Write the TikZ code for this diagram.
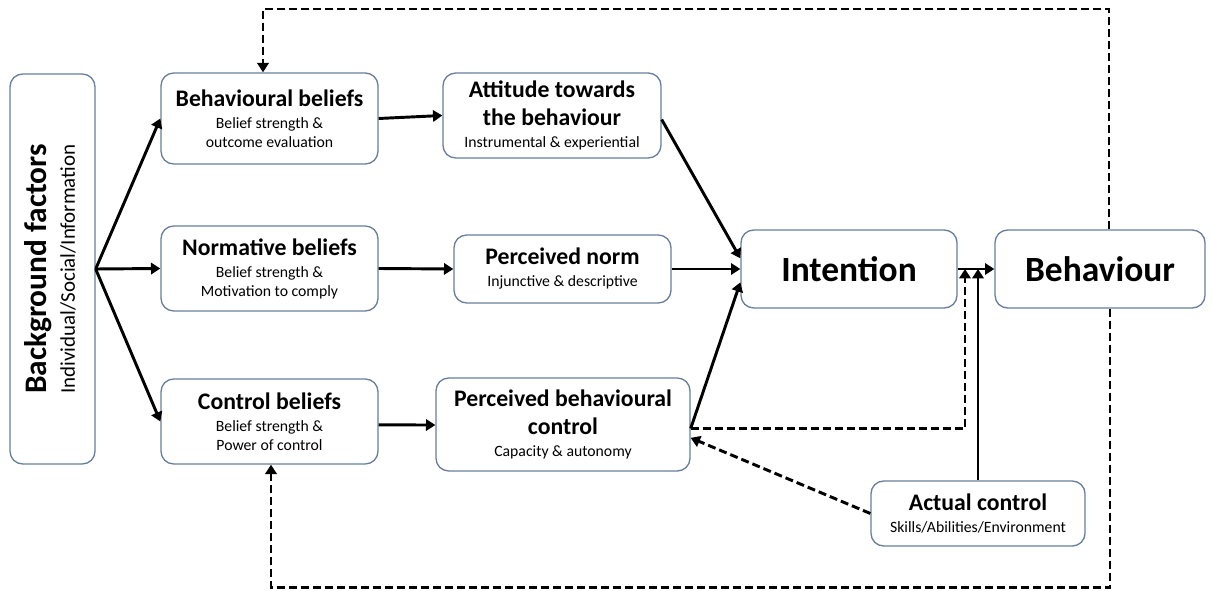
\documentclass[tikz,border=0pt]{standalone}
\usepackage{fontspec}
\setmainfont{Carlito}
\usetikzlibrary{arrows.meta}
\definecolor{boxline}{RGB}{104,126,156}

% heading lines inside the boxes
\newcommand\hd[1]{{\fontsize{17.8pt}{21pt}\selectfont\bfseries #1}}
\newcommand\bighd[1]{{\fontsize{26.6pt}{30pt}\selectfont\bfseries #1}}
\newcommand\smallfont{\fontsize{11.8pt}{14.25pt}\selectfont}

\begin{document}
\begin{tikzpicture}[x=0.75pt,y=-0.75pt,
  box/.style={draw=boxline, line width=1pt, rounded corners=9.5pt,
    align=center, inner sep=0pt, font=\smallfont,
    execute at begin node={\lineskiplimit=-100pt\relax}},
  flow/.style={line width=2.2pt, -{Triangle[length=7pt,width=8.5pt]}},
  fb/.style={flow, dash pattern=on 6pt off 3pt},
]
\useasboundingbox (0,0) rectangle (1212,591);

% background factors column
\node[box, minimum width=63.75pt, minimum height=292.5pt] (bg) at (52.5,269) {};
\node[rotate=90, align=center, inner sep=0pt,
  font=\fontsize{15.7pt}{21.4pt}\selectfont,
  execute at begin node={\lineskiplimit=-100pt\relax}] (bgtext) at (50,269)
  {{\fontsize{23.5pt}{28pt}\selectfont\bfseries Background factors}\\Individual/Social/Information};

% beliefs
\node[box, minimum width=162.75pt, minimum height=68.25pt] (bb) at (269.5,118.5)
  {\hd{Behavioural beliefs}\\[2.25pt]Belief strength \&\\outcome evaluation};
\node[box, minimum width=162.75pt, minimum height=63.75pt] (nb) at (269.5,268.5)
  {\hd{Normative beliefs}\\[2.25pt]Belief strength \&\\Motivation to comply};
\node[box, minimum width=162.75pt, minimum height=63.75pt] (cb) at (269.5,421.5)
  {\hd{Control beliefs}\\[2.25pt]Belief strength \&\\Power of control};

% attitudes, norms and perceived control
\node[box, minimum width=163.5pt, minimum height=63.75pt] (att) at (552,115.5)
  {\hd{Attitude towards}\\[6.75pt]\hd{the behaviour}\\[2.25pt]Instrumental \& experiential};
\node[box, minimum width=162.75pt, minimum height=51pt] (pn) at (562.5,269)
  {\hd{Perceived norm}\\[2.25pt]Injunctive \& descriptive};
\node[box, minimum width=190.5pt, minimum height=69.75pt] (pbc) at (563,424.5)
  {\hd{Perceived behavioural}\\[6.75pt]\hd{control}\\[2.25pt]Capacity \& autonomy};

% intention, behaviour, actual control
\node[box, minimum width=162pt, minimum height=58.5pt] (int) at (849,269)
  {\bighd{Intention}};
\node[box, minimum width=157.5pt, minimum height=58.5pt] (beh) at (1100,269)
  {\bighd{Behaviour}};
\node[box, minimum width=160.5pt, minimum height=48.75pt] (ac) at (978,513.5)
  {\hd{Actual control}\\[2.25pt]Skills/Abilities/Environment};

% junction points on the intention-behaviour link and feedback corners
\coordinate (j1) at (965,269);
\coordinate (j2) at (978,269);
\coordinate (tl) at (263,9);
\coordinate (tr) at (1109,9);
\coordinate (bl) at (271,587.5);
\coordinate (br) at (1110,587.5);

% main flow
\draw[flow] (bg.east) -- (bb.west);
\draw[flow] (bg.east) -- (nb.west);
\draw[flow] (bg.east) -- (cb.west);
\draw[flow] (bb.east) -- (att.west);
\draw[flow] (nb.east) -- (pn.west);
\draw[flow] ([yshift=-2.5pt]cb.east) -- ([yshift=-0.4pt]pbc.west);
\draw[flow] ([yshift=-3pt]att.east) -- ([yshift=8pt]int.west);
\draw[flow] (pn.east) -- (int.west);
\draw[flow] ([yshift=-3pt]pbc.east) -- ([yshift=-10pt]int.west);
\draw[flow] (int.east) -- (beh.west);

% control moderating the intention-behaviour link
\draw[fb] ([yshift=-3pt]pbc.east) -| (j1);
\draw[flow] (ac.north) -- (j2);
\draw[fb] (ac.west) -- ([yshift=-10pt]pbc.east);

% feedback loops
\draw[fb] ([xshift=6.75pt]beh.north) -- (tr) -- (tl) -- (tl |- bb.north);
\draw[fb] ([xshift=7.5pt]beh.south) -- (br) -- (bl) -- (bl |- cb.south);
\end{tikzpicture}
\end{document}
